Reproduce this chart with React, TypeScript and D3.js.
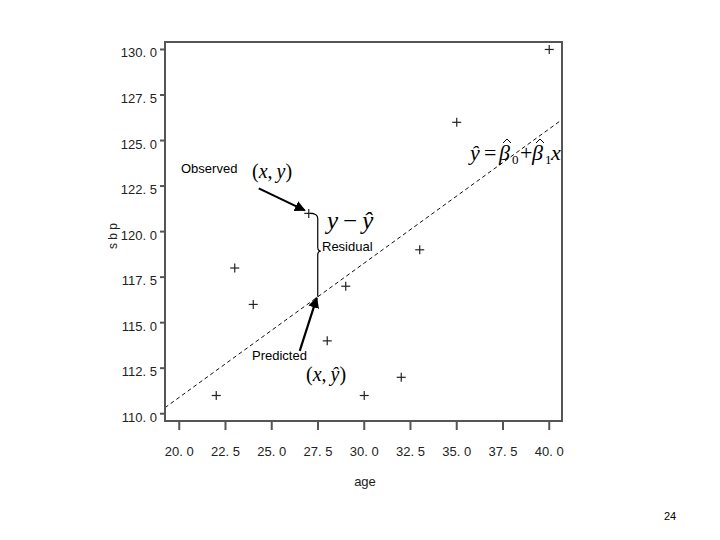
import React from "react";
import * as d3 from "d3";

const ages = [22, 23, 24, 27, 28, 29, 30, 32, 33, 35, 40];
const sbp = [111, 118, 116, 121, 114, 117, 111, 112, 119, 126, 130];
const xTicks = [20, 22.5, 25, 27.5, 30, 32.5, 35, 37.5, 40];
const yTicks = [110, 112.5, 115, 117.5, 120, 122.5, 125, 127.5, 130];
const fitIntercept = 96.16;
const fitSlope = 0.737;
const highlightAge = 27;
const highlightSbp = 121;

const W = 720;
const H = 540;
const L = 165, R = 562, T = 42, B = 421;

export default function App() {
  const x = d3.scaleLinear().domain([19.23, 40.69]).range([L, R]);
  const y = d3.scaleLinear().domain([109.6, 130.41]).range([B, T]);
  const fmt = (v: number) => d3.format(".1f")(v).replace(".", ". ");
  const fit = (a: number) => fitIntercept + fitSlope * a;
  const [x0, x1] = x.domain();
  const lineGen = d3.line<number>().x((a) => x(a)).y((a) => y(fit(a)));

  const px = x(highlightAge);
  const py = y(highlightSbp);
  const bx = px + 9;
  const by = y(fit(x.invert(bx)));
  const midY = (py + by) / 2 - 4;
  const brace = `M${px + 1},${py} Q${bx},${py} ${bx},${py + 5} L${bx},${midY - 4} Q${bx},${midY} ${bx + 3},${midY} Q${bx},${midY} ${bx},${midY + 4} L${bx},${by}`;

  const axisColor = "#555";
  const textColor = "#222";
  const sans = "'Liberation Sans', Arial, sans-serif";
  const serif = "'Liberation Serif', 'Times New Roman', serif";

  const plus = (cx: number, cy: number, i: number) => (
    <g key={i} stroke="#222" strokeWidth={1.2}>
      <line x1={cx - 4.5} x2={cx + 4.5} y1={cy} y2={cy} />
      <line x1={cx} x2={cx} y1={cy - 4.5} y2={cy + 4.5} />
    </g>
  );

  const fy = 160;
  const hat = (cx: number) => (
    <path d={`M${cx - 4},${fy - 17} L${cx},${fy - 21} L${cx + 4},${fy - 17}`} fill="none" stroke="#000" strokeWidth={1} />
  );

  return (
    <svg width={W} height={H} style={{ position: "absolute", left: 0, top: 0, background: "#fff" }}>
      <defs>
        <marker id="ah" viewBox="0 0 10 10" refX="9" refY="5" markerWidth="5" markerHeight="5" orient="auto">
          <path d="M0,0 L10,5 L0,10 z" fill="#000" />
        </marker>
      </defs>
      <rect width={W} height={H} fill="#fff" />

      {/* regression line */}
      <path d={lineGen([x0, x1]) || ""} fill="none" stroke="#111" strokeWidth={1} strokeDasharray="4,3" />

      {/* points */}
      {ages.map((a, i) => plus(x(a), y(sbp[i]), i))}

      {/* frame */}
      <path d={`M${L},${B} L${L},${T} L${R},${T} L${R},${B} Z`} fill="none" stroke={axisColor} strokeWidth={2} />

      {/* y ticks */}
      {yTicks.map((t) => (
        <g key={"y" + t}>
          <line x1={L - 5} x2={L} y1={y(t)} y2={y(t)} stroke={axisColor} strokeWidth={2} />
          <text x={L - 8} y={y(t) + 8} textAnchor="end" fontFamily={sans} fontSize={13} fill={textColor}>{fmt(t)}</text>
        </g>
      ))}

      {/* x ticks */}
      {xTicks.map((t) => (
        <g key={"x" + t}>
          <line x1={x(t)} x2={x(t)} y1={B} y2={B + 9} stroke={axisColor} strokeWidth={2} />
          <text x={x(t)} y={B + 35} textAnchor="middle" fontFamily={sans} fontSize={13} fill={textColor}>{fmt(t)}</text>
        </g>
      ))}

      {/* axis labels */}
      <text x={365} y={486} textAnchor="middle" fontFamily={sans} fontSize={13} fill={textColor}>age</text>
      <text transform="translate(117,236) rotate(-90)" textAnchor="middle" fontFamily={sans} fontSize={12} fill={textColor}>s b p</text>

      {/* annotations */}
      <text x={181} y={173} fontFamily={sans} fontSize={13} fill="#000">Observed</text>
      <text x={252} y={178} fontFamily={serif} fontSize={20} fill="#000">(<tspan fontStyle="italic">x</tspan>,{"\u2009"}<tspan fontStyle="italic">y</tspan>)</text>
      <line x1={px - 50} y1={py - 25} x2={px - 4} y2={py - 3} stroke="#000" strokeWidth={2.2} markerEnd="url(#ah)" />

      <path d={brace} fill="none" stroke="#000" strokeWidth={1.2} />
      <text x={327} y={229} fontFamily={serif} fontSize={25} fill="#000"><tspan fontStyle="italic">y</tspan>{"\u2009−\u2009"}<tspan fontStyle="italic">ŷ</tspan></text>
      <text x={322} y={251} fontFamily={sans} fontSize={13} fill="#000">Residual</text>

      <line x1={px - 9} y1={by + 54} x2={bx - 1} y2={by + 1} stroke="#000" strokeWidth={2.2} markerEnd="url(#ah)" />
      <text x={252} y={360} fontFamily={sans} fontSize={13} fill="#000">Predicted</text>
      <text x={306} y={381} fontFamily={serif} fontSize={20} fill="#000">(<tspan fontStyle="italic">x</tspan>,{"\u2009"}<tspan fontStyle="italic">ŷ</tspan>)</text>

      {/* fitted-line equation */}
      <g fontFamily={serif} fontSize={22} fill="#000">
        <text x={470} y={fy} fontStyle="italic">ŷ</text>
        <text x={484} y={fy}>=</text>
        <text x={499} y={fy} fontStyle="italic">β</text>
        {hat(507)}
        <text x={512} y={fy + 4} fontSize={13}>0</text>
        <text x={520} y={fy}>+</text>
        <text x={532} y={fy} fontStyle="italic">β</text>
        {hat(540)}
        <text x={545} y={fy + 4} fontSize={13}>1</text>
        <text x={551} y={fy} fontStyle="italic">x</text>
      </g>

      <text x={670} y={520} textAnchor="middle" fontFamily={sans} fontSize={11} fill="#000">24</text>
    </svg>
  );
}
